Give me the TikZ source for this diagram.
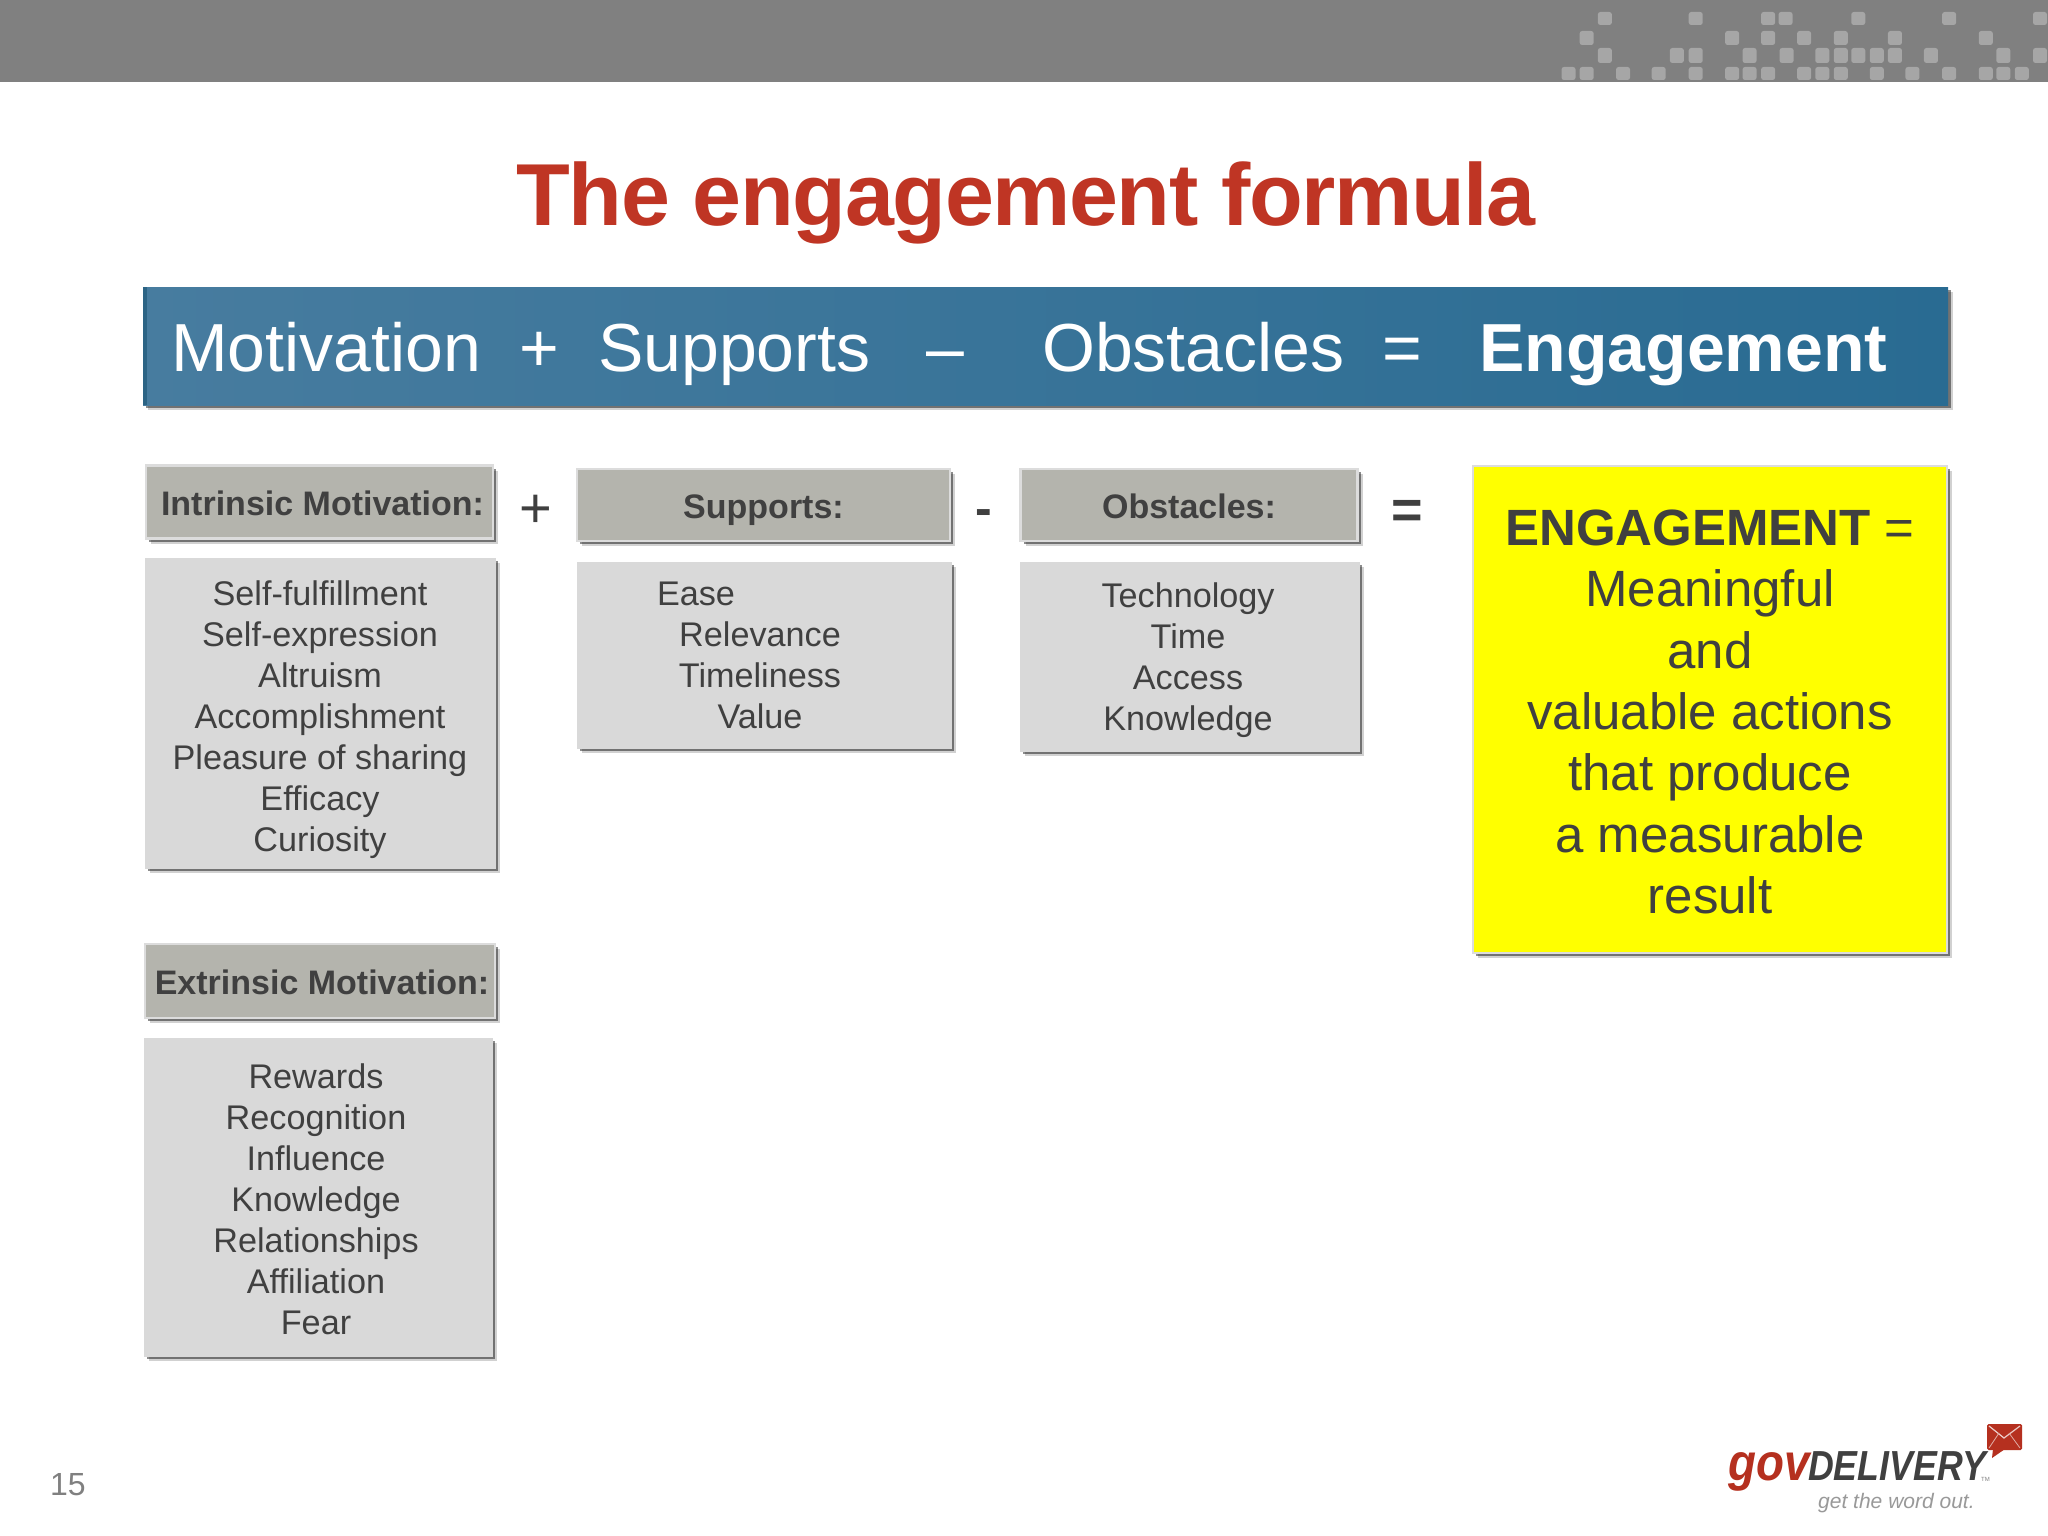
\documentclass[tikz,border=0pt]{standalone}
\usepackage{fontspec}
\setmainfont{Liberation Sans}
\usetikzlibrary{shadows}
\definecolor{barcol}{HTML}{808080}
\definecolor{dotcol}{HTML}{A6A6A6}
\definecolor{titlecol}{HTML}{BF3524}
\definecolor{headblue}{HTML}{33769F}
\definecolor{headleft}{HTML}{477C9F}
\definecolor{headright}{HTML}{296B92}
\definecolor{headedge}{HTML}{2C6485}
\definecolor{inktext}{HTML}{404040}
\definecolor{headfill}{HTML}{B4B4AD}
\definecolor{bodyfill}{HTML}{D9D9D9}
\definecolor{edgecol}{HTML}{DCDCDC}
\definecolor{logored}{HTML}{B5301F}
\definecolor{resyellow}{HTML}{FFFF00}
\newcommand{\fsz}[2]{\fontsize{#1}{#2}\selectfont}
\tikzset{
  x=1pt,y=-1pt,
  softshadow/.style={
    drop shadow={shadow xshift=5pt,shadow yshift=-5pt,fill=black,opacity=.18},
    drop shadow={shadow xshift=3pt,shadow yshift=-3pt,fill=black,opacity=.45}},
  headbox/.style={rectangle,inner sep=0,draw=edgecol,line width=2.5pt,fill=headfill,softshadow},
  bodybox/.style={rectangle,inner sep=0,draw=bodyfill,line width=1pt,fill=bodyfill,softshadow},
  headtext/.style={inner sep=0,anchor=base,text=inktext,font=\fsz{34}{41}\bfseries},
  bodytext/.style={inner sep=0,anchor=north,align=center,text=inktext,font=\fsz{34.2}{41}},
  optext/.style={inner sep=0,anchor=base,text=inktext},
  bartext/.style={inner sep=0,anchor=base west,text=white,font=\fsz{68}{80}},
  barop/.style={inner sep=0,anchor=base,text=white,font=\fsz{68}{80}},
}
\begin{document}
\begin{tikzpicture}
\useasboundingbox (0,0) rectangle (2048,1536);
\fill[white] (0,0) rectangle (2048,1536);
% top bar
\fill[barcol] (0,0) rectangle (2048,82);
\foreach \y/\h/\list in {
  12/13/{300,560,767,817,1025,1285,1545},
  31/14/{248,664,767,870,975,1130,1390},
  48/15/{300,506,560,714,820,922,975,1025,1078,1130,1233,1440,1545},
  67/13/{196,248,352,454,560,664,714,767,870,922,975,1078,1180,1285,1390,1440,1493}}{
  \foreach \c in \list {
    \pgfmathsetmacro{\xx}{1500+\c*0.3495}
    \fill[dotcol,rounded corners=2.5pt] (\xx-7,\y) rectangle ++(14,\h);
  }
}
% title
\node (title) [inner sep=0,anchor=base,text=titlecol,font=\fsz{88}{100}\bfseries\addfontfeature{LetterSpace=-1.6}] at (1026,225) {The engagement formula};
% formula bar
\node (bar) [rectangle,inner sep=0,minimum width=1805pt,minimum height=118pt,left color=headleft,middle color=headblue,right color=headright,softshadow] at (1045.5,346) {};
\fill[headedge] (143,287) rectangle (147,405);
\node (fm) [bartext] at (171,371) {Motivation};
\node (fp) [barop] at (539,371) {+};
\node (fs) [bartext] at (598,371) {Supports};
\node (fd) [barop] at (945,371) {–};
\node (fo) [bartext] at (1042,371) {Obstacles};
\node (fe) [barop] at (1402,371) {=};
\node (fg) [bartext,font=\fsz{68}{80}\bfseries] at (1479,371) {Engagement};
% head boxes
\node (h1) [headbox,minimum width=347pt,minimum height=73pt] at (319.5,502) {};
\node (h2) [headbox,minimum width=373pt,minimum height=72pt] at (763.5,505) {};
\node (h3) [headbox,minimum width=337pt,minimum height=72pt] at (1189,505) {};
\node (h4) [headbox,minimum width=350pt,minimum height=74pt] at (320,981) {};
\node [headtext] at (h1.center) [xshift=3pt,yshift=-13pt] {Intrinsic Motivation:};
\node [headtext] at (h2.center) [yshift=-13pt] {Supports:};
\node [headtext] at (h3.center) [yshift=-13pt] {Obstacles:};
\node [headtext] at (h4.center) [xshift=2pt,yshift=-13pt] {Extrinsic Motivation:};
% body boxes
\node (b1) [bodybox,minimum width=350pt,minimum height=310pt] at (320,713) {};
\node (b2) [bodybox,minimum width=374pt,minimum height=186pt] at (764,655) {};
\node (b3) [bodybox,minimum width=339pt,minimum height=189pt] at (1189.5,656.5) {};
\node (b4) [bodybox,minimum width=348pt,minimum height=318pt] at (318,1197) {};
\node (t1) [bodytext] at (320,581) {Self-fulfillment\\Self-expression\\Altruism\\Accomplishment\\Pleasure of sharing\\Efficacy\\Curiosity};
\node (t2) [bodytext] at (760,582) {\hbox{Ease\kern128pt}\\Relevance\\Timeliness\\Value};
\node (t3) [bodytext] at (1188,583) {Technology\\Time\\Access\\Knowledge};
\node (t4) [bodytext] at (316,1064) {Rewards\\Recognition\\Influence\\Knowledge\\Relationships\\Affiliation\\Fear};
% operators
\node (o1) [optext,font=\fsz{56}{60}] at (536,527) {+};
\node (o2) [optext,font=\fsz{50}{60}\bfseries] at (984,525) {-};
\node (o3) [optext,font=\fsz{54}{60}\bfseries] at (1407,528) {=};
% result
\node (res) [rectangle,inner sep=0,minimum width=474pt,minimum height=487pt,fill=resyellow,draw=edgecol,line width=1.5pt,softshadow] at (1710,709.5) {};
\node (rest) [inner sep=0,anchor=north,align=center,text=inktext,font=\fsz{51}{61.4}] at (1710,509.5) {\textbf{ENGAGEMENT} =\\Meaningful\\and\\valuable actions\\that produce\\a measurable\\result};
% page number
\node (pg) [inner sep=0,anchor=base west,text=gray,font=\fsz{32}{38}] at (50,1495) {15};
% logo
\node (lg) [inner sep=0,anchor=base east,text=logored,font=\fsz{52}{60}\bfseries\itshape,xscale=.88,transform shape] at (1810,1480) {gov};
\node (ld) [inner sep=0,anchor=base west,text=inktext,font=\fsz{42}{50}\bfseries\itshape,xscale=.85,transform shape] at (1808,1480) {DELIVERY};
\node (lt) [inner sep=0,anchor=base west,text=gray!80,font=\fsz{21}{25}\itshape] at (1818,1508) {get the word out.};
\node (lm) [inner sep=0,anchor=base west,text=gray,font=\fsz{6}{7}] at (1981,1481) {TM};
\fill[logored,rounded corners=1.5pt] (1987,1424) rectangle (2022,1450);
\fill[logored] (1993,1449) -- (2005,1449) -- (1992,1458) -- cycle;
\draw[white!75!logored,line width=1.2pt] (1989,1426) -- (2004,1438) -- (2020,1426);
\draw[white!60!logored,line width=.8pt] (1989,1448) -- (1999,1433) (2020,1448) -- (2009,1433);
\end{tikzpicture}
\end{document}
